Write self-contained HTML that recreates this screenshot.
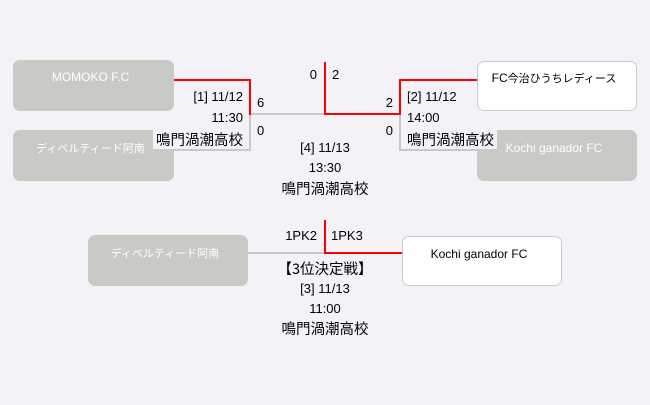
<!DOCTYPE html>
<html>
<head>
<meta charset="utf-8">
<style>
html,body{margin:0;padding:0;}
body{width:650px;height:405px;background:#f4f2f6;position:relative;overflow:hidden;font-family:"Liberation Sans","Noto Sans CJK JP",sans-serif;}
.box{position:absolute;width:161px;height:51px;border-radius:7px;box-sizing:border-box;}
.g{background:#c8cac6;color:#fff;}
.w{background:#fff;border:1px solid #cbcbcb;color:#000;}
.bl{position:absolute;left:0;right:6px;text-align:center;font-size:12px;line-height:16px;white-space:nowrap;}
.bl .j{font-size:11px;}
.ln{position:absolute;}
.r{background:#ff0000;}
.gr{background:#c8c8c8;}
.t{position:absolute;line-height:20px;height:20px;white-space:nowrap;font-size:13px;color:#000;}
.j{font-family:"Noto Sans CJK JP","Liberation Sans",sans-serif;font-size:14.5px;}
.cover{position:absolute;background:#f4f2f6;}
</style>
</head>
<body>

<!-- boxes -->
<div class="box g" style="left:13px;top:60px;"><div class="bl" style="top:9px;">MOMOKO F.C</div></div>
<div class="box g" style="left:13px;top:130px;"><div class="bl" style="top:10px;"><span class="j">ディベルティード阿南</span></div></div>
<div class="box w" style="left:477px;top:61px;width:160px;height:50px;"><div class="bl" style="top:8px;"><span>FC</span><span class="j">今治ひうちレディース</span></div></div>
<div class="box g" style="left:477px;top:130px;width:160px;"><div class="bl" style="top:10px;">Kochi ganador FC</div></div>
<div class="box g" style="left:88px;top:235px;width:160px;"><div class="bl" style="top:10px;"><span class="j">ディベルティード阿南</span></div></div>
<div class="box w" style="left:402px;top:236px;width:160px;height:50px;"><div class="bl" style="top:9px;">Kochi ganador FC</div></div>

<!-- text block covers (only over lower boxes) -->
<div class="cover" style="left:153px;top:112px;width:96px;height:37px;"></div>
<div class="cover" style="left:401px;top:112px;width:96px;height:37px;"></div>

<!-- gray lines -->
<div class="ln gr" style="left:249px;top:113px;width:76px;height:2px;"></div>
<div class="ln gr" style="left:249px;top:113px;width:2px;height:38px;"></div>
<div class="ln gr" style="left:174px;top:149px;width:77px;height:2px;"></div>
<div class="ln gr" style="left:399px;top:113px;width:2px;height:38px;"></div>
<div class="ln gr" style="left:399px;top:149px;width:78px;height:2px;"></div>
<div class="ln gr" style="left:248px;top:252px;width:77px;height:2px;"></div>

<!-- red lines -->
<div class="ln r" style="left:174px;top:79px;width:77px;height:2px;"></div>
<div class="ln r" style="left:249px;top:79px;width:2px;height:36px;"></div>
<div class="ln r" style="left:324px;top:62px;width:2px;height:53px;"></div>
<div class="ln r" style="left:324px;top:113px;width:77px;height:2px;"></div>
<div class="ln r" style="left:399px;top:79px;width:2px;height:36px;"></div>
<div class="ln r" style="left:399px;top:79px;width:78px;height:2px;"></div>
<div class="ln r" style="left:324px;top:220px;width:2px;height:34px;"></div>
<div class="ln r" style="left:324px;top:252px;width:78px;height:2px;"></div>

<!-- match 1 info -->
<div class="t" style="right:407px;top:87px;">[1] 11/12</div>
<div class="t" style="right:407px;top:108px;">11:30</div>
<div class="t" style="right:407px;top:130px;"><span class="j">鳴門渦潮高校</span></div>
<div class="t" style="left:257px;top:93px;">6</div>
<div class="t" style="left:257px;top:121px;">0</div>

<!-- match 2 info -->
<div class="t" style="left:407px;top:87px;">[2] 11/12</div>
<div class="t" style="left:407px;top:108px;">14:00</div>
<div class="t" style="left:407px;top:130px;"><span class="j">鳴門渦潮高校</span></div>
<div class="t" style="right:257px;top:93px;">2</div>
<div class="t" style="right:257px;top:121px;">0</div>

<!-- final -->
<div class="t" style="right:333px;top:65px;">0</div>
<div class="t" style="left:332px;top:65px;">2</div>
<div class="t" style="left:225px;width:200px;text-align:center;top:138px;">[4] 11/13</div>
<div class="t" style="left:225px;width:200px;text-align:center;top:158px;">13:30</div>
<div class="t" style="left:225px;width:200px;text-align:center;top:179px;"><span class="j">鳴門渦潮高校</span></div>

<!-- third place -->
<div class="t" style="right:333px;top:226px;">1PK2</div>
<div class="t" style="left:331px;top:226px;">1PK3</div>
<div class="t" style="left:225px;width:200px;text-align:center;top:259px;"><span class="j">【3位決定戦】</span></div>
<div class="t" style="left:225px;width:200px;text-align:center;top:279px;">[3] 11/13</div>
<div class="t" style="left:225px;width:200px;text-align:center;top:299px;">11:00</div>
<div class="t" style="left:225px;width:200px;text-align:center;top:319px;"><span class="j">鳴門渦潮高校</span></div>

</body>
</html>
